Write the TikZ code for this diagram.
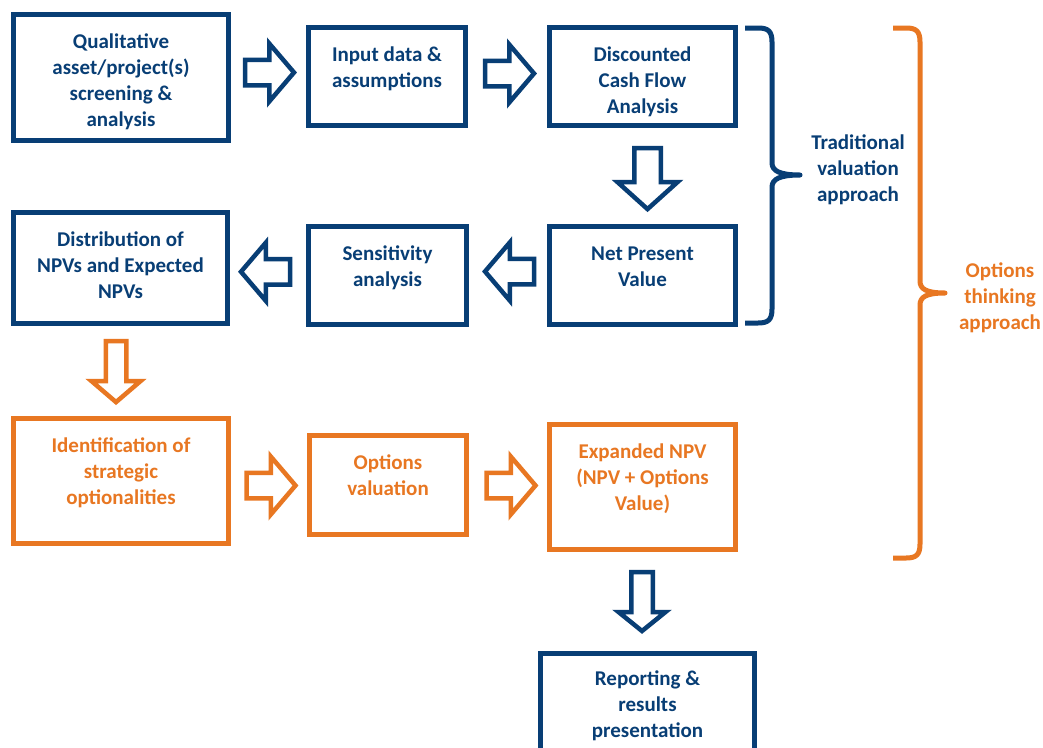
\documentclass[tikz,border=0pt]{standalone}
\usepackage{fontspec}
\setmainfont{Carlito}
\usetikzlibrary{calc}
\definecolor{navy}{RGB}{8,62,117}
\definecolor{amber}{RGB}{232,119,34}

\begin{document}
\begin{tikzpicture}[x=1pt,y=-1pt,
  txt/.style={font=\bfseries\fontsize{21}{26}\selectfont, align=center, inner sep=0pt},
  box/.style={draw, line width=5pt, inner sep=0pt, fill=white},
  bluebox/.style={box, draw=navy},
  orangebox/.style={box, draw=amber},
  bluetext/.style={txt, text=navy, anchor=north, yshift=-20pt},
  orangetext/.style={txt, text=amber, anchor=north, yshift=-20pt},
  barrow/.style={draw=navy, line width=4.5pt, fill=white, line join=miter},
  oarrow/.style={draw=amber, line width=4.5pt, fill=white, line join=miter},
  bracestroke/.style={line width=5pt, line join=round},
  % hollow block arrow pointing right: length / shaft half-width / head half-width / head length
  pics/hollow/.style args={#1/#2/#3/#4}{code={
    \path[pic actions] ({-#1/2},{-#2}) -- ({#1/2-#4},{-#2}) -- ({#1/2-#4},{-#3})
      -- ({#1/2},0) -- ({#1/2-#4},{#3}) -- ({#1/2-#4},{#2}) -- ({-#1/2},{#2}) -- cycle;
  }}
]
\clip (0,0) rectangle (1043,747);
\fill[white] (0,0) rectangle (1043,747);

% traditional valuation steps
\node[bluebox, minimum width=215pt, minimum height=126pt,
  label={[bluetext]north:{\rule{0pt}{16pt}Qualitative\\asset/project(s)\\screening \&\\analysis}}] (A) at (121,77.5) {};
\node[bluebox, minimum width=157pt, minimum height=98pt,
  label={[bluetext]north:{\rule{0pt}{16pt}Input data \&\\assumptions}}] (B) at (387,76.5) {};
\node[bluebox, minimum width=186pt, minimum height=98pt,
  label={[bluetext]north:{\rule{0pt}{16pt}Discounted\\Cash Flow\\Analysis}}] (C) at (642.5,76.5) {};
\node[bluebox, minimum width=214pt, minimum height=111pt,
  label={[bluetext]north:{\rule{0pt}{16pt}Distribution of\\NPVs and Expected\\NPVs}}] (D) at (120.5,268) {};
\node[bluebox, minimum width=158pt, minimum height=98pt,
  label={[bluetext]north:{\rule{0pt}{16pt}Sensitivity\\analysis}}] (E) at (387.5,275.5) {};
\node[bluebox, minimum width=186pt, minimum height=98pt,
  label={[bluetext]north:{\rule{0pt}{16pt}Net Present\\Value}}] (F) at (642.5,275.5) {};

% options thinking steps
\node[orangebox, minimum width=215pt, minimum height=125pt,
  label={[orangetext]north:{\rule{0pt}{16pt}Identification of\\strategic\\optionalities}}] (G) at (121,481) {};
\node[orangebox, minimum width=157pt, minimum height=99pt,
  label={[orangetext]north:{\rule{0pt}{16pt}Options\\valuation}}] (H) at (388,485) {};
\node[orangebox, minimum width=186pt, minimum height=125pt,
  label={[orangetext]north:{\rule{0pt}{16pt}Expanded NPV\\(NPV + Options\\Value)}}] (I) at (642.5,487) {};

% reporting
\node[bluebox, minimum width=214pt, minimum height=120pt,
  label={[bluetext, yshift=2pt]north:{\rule{0pt}{16pt}Reporting \&\\results\\presentation}}] (J) at (647.5,713.5) {};

% block arrows between the steps
\pic[barrow] at ($(A.east)!0.5!(B.west)+(1,-4.5)$) {hollow=49/12.75/29/24.75};
\pic[barrow] at ($(B.east)!0.5!(C.west)+(2,-3)$) {hollow=49/12.75/29/24.75};
\pic[barrow, rotate=-90] at ($(C.south)!0.5!(F.north)+(5,2.6)$) {hollow=61/13.25/30/27};
\pic[barrow, rotate=180] at ($(F.west)!0.5!(E.east)+(1.5,-4)$) {hollow=49/12.75/29/24.75};
\pic[barrow, rotate=180] at ($(E.west)!0.5!(D.east)+(-2.5,0)$) {hollow=49/12.75/29/24.75};
\pic[oarrow, rotate=-90] at ($(D.south)!0.5!(G.north)+(-4.75,0.6)$) {hollow=61/10.25/24.5/21};
\pic[oarrow] at ($(G.east)!0.5!(H.west)+(2,2.5)$) {hollow=49/12.75/29/24.75};
\pic[oarrow] at ($(H.east)!0.5!(I.west)+(3,-0.5)$) {hollow=49/12.75/29/24.75};
\pic[barrow, rotate=-90] at ($(I.south)!0.5!(J.north)+(-3,0)$) {hollow=59/10.75/23.5/19};

% grouping braces
\draw[navy, bracestroke]
  (745,28) -- (758,28) .. controls (768,28) and (772,31) .. (772,42) -- (772,163)
  .. controls (772,171) and (780,175) .. (800,175)
  .. controls (780,175) and (772,179) .. (772,187) -- (772,309)
  .. controls (772,320) and (768,323) .. (758,323) -- (745,323);
\node[txt, text=navy] (trad) at (858,170) {Traditional\\valuation\\approach};

\draw[amber, bracestroke]
  (893,28) -- (906,28) .. controls (916,28) and (920,31) .. (920,42) -- (920,281)
  .. controls (920,289) and (926,293) .. (945,293)
  .. controls (926,293) and (920,297) .. (920,305) -- (920,544)
  .. controls (920,555) and (916,558) .. (906,558) -- (893,558);
\node[txt, text=amber] (opt) at (1000,297.5) {Options\\thinking\\approach};
\end{tikzpicture}
\end{document}
